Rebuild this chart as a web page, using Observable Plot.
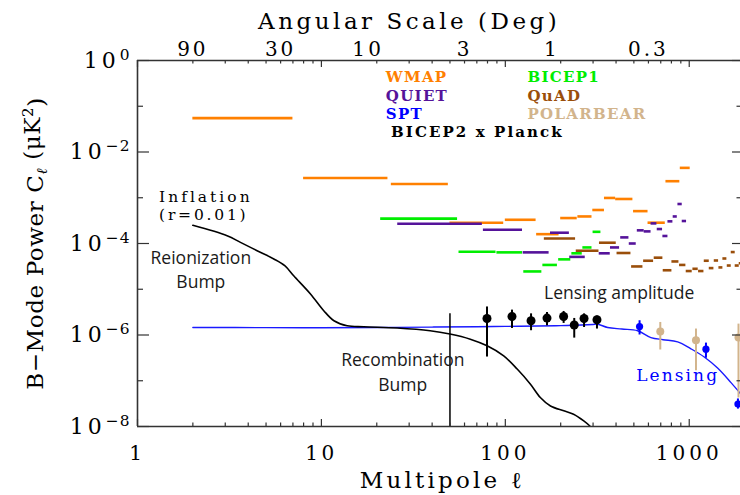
<!DOCTYPE html>
<html><head><meta charset="utf-8">
<script src="https://cdn.jsdelivr.net/npm/d3@7"></script>
<script src="https://cdn.jsdelivr.net/npm/@observablehq/plot@0.6"></script>
<style>body{margin:0;background:#fff} svg{display:block}</style>
</head><body><div id="chart"></div>
<script>
// ---------- data ----------
// upper limits: [ell_min, ell_max, C_ell]
const wmap = [[2,7,5.5e-2],[8,23,2.7e-3],[24,49,2.0e-3],[50,98,2.85e-4],[100,147,3.3e-4],[148,196,1.6e-4],[200,246,3.6e-4],[248,296,3.9e-4],[299,346,5.4e-4],[346,398,9.9e-4],[398,494,9.4e-4],[498,597,5.1e-4],[597,741,2.85e-4],[747,889,2.3e-3],[894,1012,4.5e-3]];
const quiet = [[26,75,2.7e-4],[76,124,2.0e-4],[125,173,6.4e-5],[176,223,1.72e-4],[224,272,5.1e-5],[324,372,6.1e-5],[373,418,8.2e-5],[424,470,1.36e-4],[472,515,1.0e-4],[522,569,1.94e-4],[569,620,1.84e-4],[620,667,2.75e-4],[670,716,2.07e-4],[719,766,1.46e-4],[766,815,3.05e-4],[818,861,3.9e-4],[868,916,7.3e-4],[916,967,3.1e-4]];
const bicep1 = [[21,55,3.5e-4],[56,89,6.6e-5],[90,124,6.4e-5],[126,158,2.45e-5],[160,192,3.4e-5],[195,227,4.5e-5],[230,262,6.1e-5],[264,296,8.2e-5],[300,331,1.8e-4]];
const quad = [[163,241,1.29e-4],[243,323,6.95e-5],[325,401,1.04e-4],[405,482,6.2e-5],[486,560,3.15e-5],[565,640,4.2e-5],[645,719,4.9e-5],[722,805,2.6e-5],[805,879,4.05e-5],[886,959,3.4e-5],[963,1038,2.5e-5],[1047,1119,2.8e-5],[1124,1202,2.5e-5],[1207,1285,4.2e-5],[1285,1362,2.9e-5],[1368,1444,4.25e-5],[1450,1524,3.0e-5],[1524,1602,4.7e-5],[1610,1692,3.3e-5],[1692,1778,6.5e-5],[1778,1870,3.3e-5],[1870,1960,3.7e-5]];
// detections: [ell, C_ell, low, high]
const bicep2Planck = [[79.5,2.3e-6,3.3e-7,4.1e-6],[108.7,2.54e-6,1.39e-6,3.5e-6],[138,2.05e-6,1.24e-6,2.9e-6],[168.5,2.34e-6,1.59e-6,3.1e-6],[207.5,2.54e-6,1.79e-6,3.27e-6],[237,1.65e-6,8.55e-7,2.3e-6],[268,2.3e-6,1.46e-6,2.9e-6],[315,2.15e-6,1.35e-6,2.6e-6]];
const spt = [[537,1.53e-6,1.0e-6,2.05e-6],[1233,4.9e-7,3.1e-7,6.65e-7],[1840,3.1e-8,2.4e-8,4.0e-8]];
const polarbear = [[696,1.19e-6,4.7e-7,1.88e-6],[1088,7.7e-7,1.65e-7,1.35e-6],[1853,8.8e-7,4.2e-8,1.73e-6]];
// theory curves: ell and C_ell
const inflationL = [2,3.07,3.63,4.47,5.51,6.32,7.07,8.72,10.3,11.7,13.8,17,25.8,39,50,64.5,79.6,98,116,137,155,176,208,235,267,290,310];
const inflationC = [2.5e-4,1.48e-4,1.06e-4,6.95e-5,4.6e-5,3.27e-5,1.97e-5,7.9e-6,3.4e-6,2.05e-6,1.59e-6,1.51e-6,1.42e-6,1.24e-6,1.05e-6,8.1e-7,5.8e-7,3.5e-7,1.8e-7,8.4e-8,4.3e-8,2.8e-8,2.2e-8,1.86e-8,1.33e-8,1.0e-8,7e-9];
const lensingL = [2,5,10,20,40,70,100,150,200,260,300,318,360,430,524,619,720,865,1021,1207,1426,1687,1910];
const lensingC = [1.46e-6,1.45e-6,1.44e-6,1.46e-6,1.49e-6,1.52e-6,1.54e-6,1.57e-6,1.6e-6,1.66e-6,1.7e-6,1.72e-6,1.46e-6,1.35e-6,1.24e-6,8.8e-7,7.9e-7,7.1e-7,5.0e-7,3.3e-7,1.89e-7,9.1e-8,5.1e-8];
const recombinationLineL = 50, recombinationLineTop = 2.9e-6;
// ticks and labels
const xMajor = [1, 10, 100, 1000];
const xTickText = ["1", "10", "100", "1000"];
const xMinor = [2,3,4,5,6,7,8,9,20,30,40,50,60,70,80,90,200,300,400,500,600,700,800,900];
const yLabeled = [1, 1e-2, 1e-4, 1e-6, 1e-8];
const yTickBase = "10";
const yTickExp = ["0", "−2", "−4", "−6", "−8"];
const yMinor = [1e-1, 1e-3, 1e-5, 1e-7];
const angularDeg = [90, 30, 10, 3, 1, 0.3];
const angularText = ["90", "30", "10", "3", "1", "0.3"];
const legendNames = ["WMAP", "QUIET", "SPT", "BICEP2 x Planck", "BICEP1", "QuAD", "POLARBEAR"];

// ---------- build ----------
const col = {WMAP: "#FF8000", QUIET: "#55139A", SPT: "#0000FF", "BICEP2 x Planck": "#000000", BICEP1: "#00EE00", QuAD: "#9A4E0A", POLARBEAR: "#D2B48C"};
const ul = a => a.map(([l1, l2, c]) => ({l1, l2, c}));
const pts = a => a.map(([l, c, lo, hi]) => ({l, c, lo, hi}));
const inflation = inflationL.map((l, i) => ({l, c: inflationC[i]}));
const lensing = lensingL.map((l, i) => ({l, c: lensingC[i]}));
const SERIF = "DejaVu Serif", SANS = "Open Sans";
const axisStroke = "#333";
const W = 740, H = 495, ML = 137, MR = 0, MT = 60, MB = 69;
const FW = W - ML - MR, FH = H - MT - MB;   // frame size in px

// legend placement (ell, C at text baseline)
const legendPos = [[22.4,0.335],[22.4,0.133],[22.4,0.053],[23.9,0.021],[132,0.335],[132,0.133],[132,0.053]];
const legend = legendNames.map((t, i) => ({t, l: legendPos[i][0], c: legendPos[i][1]}));

const angTicks = angularDeg.map((a, i) => ({l: 180 / a, t: angularText[i]}));
const yTickFmt = d => yTickBase + "^" + yTickExp[yLabeled.indexOf(d)];

const errMarks = (data, color, r) => [
  Plot.ruleX(pts(data), {x: "l", y1: "lo", y2: "hi", stroke: color, strokeWidth: 2, clip: true}),
  Plot.dot(pts(data), {x: "l", y: "c", r, fill: color, clip: true})
];
const ulMark = (data, color) => Plot.ruleY(ul(data), {x1: "l1", x2: "l2", y: "c", stroke: color, strokeWidth: 2.6, clip: true});
const tk = {stroke: axisStroke, strokeWidth: 1.2};

const chart = Plot.plot({
  width: W, height: H,
  marginLeft: ML, marginRight: MR, marginTop: MT, marginBottom: MB,
  style: {fontFamily: SERIF, background: "#fff", overflow: "visible"},
  x: {type: "log", domain: [1, 1900], axis: null},
  y: {type: "log", domain: [1e-8, 1], axis: null},
  marks: [
    ulMark(wmap, col.WMAP),
    ulMark(bicep1, col.BICEP1),
    ulMark(quiet, col.QUIET),
    ulMark(quad, col.QuAD),
    Plot.line(lensing, {x: "l", y: "c", stroke: "#1a1aff", strokeWidth: 1.4, curve: "catmull-rom", clip: true}),
    Plot.line(inflation, {x: "l", y: "c", stroke: "#000", strokeWidth: 1.6, curve: "catmull-rom", clip: true}),
    Plot.ruleX([recombinationLineL], {x: d => d, y1: 1e-8, y2: recombinationLineTop, stroke: "#000", strokeWidth: 1.5}),
    ...errMarks(bicep2Planck, "#000", 4.5),
    ...errMarks(spt, col.SPT, 3.6),
    ...errMarks(polarbear, col.POLARBEAR, 4),
    // frame (left, top, bottom)
    Plot.ruleX([1], {stroke: axisStroke, strokeWidth: 1.6}),
    Plot.ruleY([1e-8, 1], {stroke: axisStroke, strokeWidth: 1.6}),
    // inward ticks
    Plot.ruleX(xMajor, {...tk, insetTop: FH - 7}),
    Plot.ruleX(xMinor, {...tk, insetTop: FH - 3.5}),
    Plot.ruleX(xMajor, {...tk, insetBottom: FH - 7}),
    Plot.ruleX(xMinor, {...tk, insetBottom: FH - 3.5}),
    Plot.ruleY(yLabeled, {...tk, insetRight: FW - 12}),
    Plot.ruleY(yMinor, {...tk, insetRight: FW - 6}),
    Plot.ruleY(yLabeled, {...tk, insetLeft: FW - 8}),
    Plot.ruleY(yMinor, {...tk, insetLeft: FW - 3.5}),
    // tick labels
    Plot.axisX(xMajor, {anchor: "bottom", tickSize: 0, tickPadding: 19, tickFormat: d => xTickText[xMajor.indexOf(d)], label: null, fontSize: 20, fill: "#000"}),
    Plot.text(angTicks, {x: "l", text: "t", frameAnchor: "top", lineAnchor: "bottom", dy: -5, fontSize: 20, fill: "#000"}),
    Plot.axisY(yLabeled, {anchor: "left", tickSize: 0, tickPadding: 7, tickFormat: yTickFmt, label: null, fontSize: 22, fill: "#000"}),
    // titles
    Plot.text([{t: "Angular Scale (Deg)", l: 30}], {x: "l", text: "t", frameAnchor: "top", lineAnchor: "bottom", dy: -31.7, fontSize: 23, fill: "#000"}),
    Plot.text([{t: "Multipole ℓ", l: 45.5}], {x: "l", text: "t", frameAnchor: "bottom", lineAnchor: "bottom", dy: 61, fontSize: 23, fill: "#000"}),
    Plot.text(["B−Mode Power Cℓ (μK²)"], {frameAnchor: "left", rotate: -90, dx: -95, lineAnchor: "bottom", textAnchor: "middle", fontSize: 23, fill: "#000"}),
    // legend
    Plot.text(legend, {x: "l", y: "c", text: "t", textAnchor: "start", lineAnchor: "bottom", fill: d => col[d.t], fontSize: 15, fontWeight: "bold"}),
    // annotations
    Plot.text([{t: "Inflation", l: 1.31, c: 7.9e-4}, {t: "(r=0.01)", l: 1.31, c: 3.3e-4}], {x: "l", y: "c", text: "t", textAnchor: "start", lineAnchor: "bottom", fontSize: 15.5, fill: "#000"}),
    Plot.text([{t: "Lensing", l: 865, c: 9.95e-8}], {x: "l", y: "c", text: "t", textAnchor: "middle", lineAnchor: "bottom", fontSize: 17, fill: "#0000FF"}),
    Plot.text([
      {t: "Reionization", l: 2.21, c: 3.6e-5},
      {t: "Bump", l: 2.21, c: 1.06e-5},
      {t: "Recombination", l: 27.7, c: 2.12e-7},
      {t: "Bump", l: 27.7, c: 6.0e-8},
      {t: "Lensing amplitude", l: 416, c: 6.1e-6}
    ], {x: "l", y: "c", text: "t", textAnchor: "middle", lineAnchor: "bottom", fontSize: 17.5, fill: "#1a1a1a", fontFamily: SANS})
  ]
});

// ---------- typographic touches (letter spacing, super/subscripts) ----------
const svg = d3.select(chart);
const spacing = new Map([
  ["Angular Scale (Deg)", "3.5px"], ["Multipole ℓ", "3.2px"],
  ["1", "4px"], ["10", "3.5px"], ["100", "4px"], ["1000", "4px"],
  ["90", "3px"], ["30", "3px"], ["3", "3px"], ["0.3", "3px"],
  ["Inflation", "3px"], ["(r=0.01)", "2.8px"], ["Lensing", "2.1px"],
  ["B−Mode Power Cℓ (μK²)", "0.6px"]
]);
legendNames.forEach(n => spacing.set(n, n === "BICEP2 x Planck" ? "2.1px" : "1.3px"));
svg.selectAll("text").each(function () {
  const s = this.textContent;
  const t = d3.select(this);
  if (spacing.has(s)) t.style("letter-spacing", spacing.get(s));
  if (s.startsWith(yTickBase + "^")) {
    const exp = s.split("^")[1];
    t.text(null).style("letter-spacing", "4px");
    t.append("tspan").text(yTickBase);
    t.append("tspan").attr("dy", "-0.5em").attr("font-size", "0.7em").style("letter-spacing", "1px").text(exp);
  }
  if (s === "B−Mode Power Cℓ (μK²)") {
    t.text(null);
    t.append("tspan").text("B−Mode Power C");
    t.append("tspan").attr("dy", "0.3em").attr("font-size", "0.65em").attr("font-style", "italic").text("ℓ");
    t.append("tspan").attr("dy", "-0.3em").text(" (μK");
    t.append("tspan").attr("dy", "-0.45em").attr("font-size", "0.65em").text("2");
    t.append("tspan").attr("dy", "0.45em").text(")");
  }
});
document.getElementById("chart").appendChild(chart);
</script>
</body></html>
